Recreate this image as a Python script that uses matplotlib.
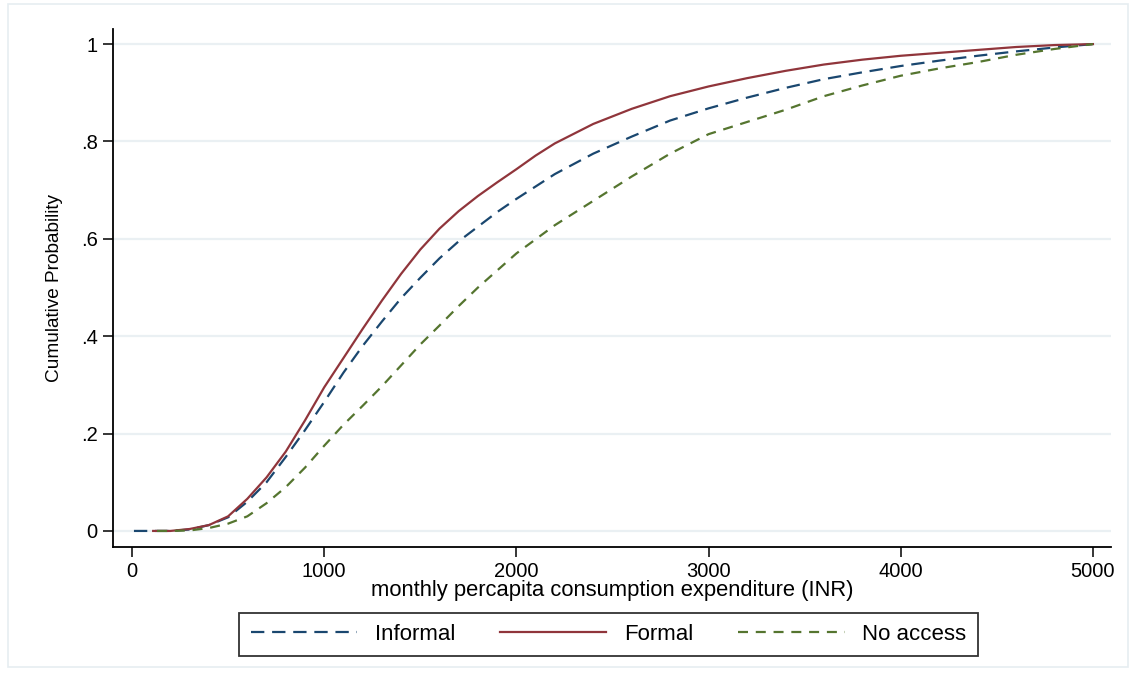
import matplotlib
matplotlib.use("Agg")
import matplotlib.pyplot as plt
from matplotlib.patches import Rectangle

plt.rcParams['font.family'] = ['Liberation Sans', 'DejaVu Sans']

# x grid (INR) and cumulative probabilities
x_formal = [110, 200, 300, 400, 500, 600, 700, 800, 900, 1000, 1100, 1200, 1300, 1400,
            1500, 1600, 1700, 1800, 1900, 2000, 2100, 2200, 2400, 2600, 2800, 3000, 3200,
            3400, 3600, 3800, 4000, 4200, 4400, 4600, 4800, 5000]
y_formal = [0.0, 0.0, 0.004, 0.012, 0.03, 0.066, 0.11, 0.163, 0.227, 0.295, 0.355, 0.415,
            0.473, 0.528, 0.578, 0.621, 0.657, 0.688, 0.716, 0.743, 0.771, 0.796, 0.836, 0.867,
            0.893, 0.913, 0.93, 0.945, 0.958, 0.968, 0.976, 0.982, 0.988, 0.994, 0.998, 1.0]

x_informal = [10, 200, 300, 400, 500, 600, 700, 800, 900, 1000, 1100, 1200, 1300, 1400,
              1500, 1600, 1700, 1800, 1900, 2000, 2200, 2400, 2600, 2800, 3000, 3200,
              3400, 3600, 3800, 4000, 4200, 4400, 4600, 4800, 5000]
y_informal = [0.0, 0.0, 0.003, 0.012, 0.028, 0.06, 0.10, 0.152, 0.207, 0.265, 0.325, 0.38,
              0.43, 0.478, 0.52, 0.56, 0.595, 0.625, 0.655, 0.682, 0.733, 0.775, 0.81,
              0.843, 0.868, 0.89, 0.91, 0.928, 0.942, 0.955, 0.966, 0.976, 0.985, 0.993, 1.0]

x_noaccess = [130, 200, 300, 400, 500, 600, 700, 800, 900, 1000, 1100, 1200, 1300, 1400,
              1500, 1600, 1700, 1800, 1900, 2000, 2200, 2400, 2600, 2800, 3000, 3200,
              3400, 3600, 3800, 4000, 4200, 4400, 4600, 4800, 5000]
y_noaccess = [0.0, 0.0, 0.001, 0.006, 0.015, 0.03, 0.057, 0.09, 0.13, 0.175, 0.218, 0.257,
              0.297, 0.34, 0.383, 0.422, 0.462, 0.5, 0.535, 0.57, 0.628, 0.678, 0.728,
              0.775, 0.815, 0.84, 0.865, 0.893, 0.915, 0.935, 0.95, 0.963, 0.978, 0.99, 1.0]

x_ticks = [0, 1000, 2000, 3000, 4000, 5000]
y_ticks = [0, 0.2, 0.4, 0.6, 0.8, 1.0]
y_ticklabels = ["0", ".2", ".4", ".6", ".8", "1"]

c_informal = "#1a476f"
c_formal = "#90353b"
c_noaccess = "#55752f"

fig = plt.figure(figsize=(11.32, 6.86), dpi=100)
fig.patch.set_facecolor("white")
fig.patches.append(Rectangle((8/1132, 1 - 667/686), (1128 - 8)/1132, (667 - 4)/686,
                             transform=fig.transFigure, fill=False,
                             edgecolor="#e6edf1", linewidth=1.2))

ax = fig.add_axes([113/1132, 1 - 547/686, (1111 - 113)/1132, (547 - 29)/686])
ax.set_xlim(-99, 5094)
ax.set_ylim(-0.033, 1.031)

for yt in y_ticks:
    ax.axhline(yt, color="#eaf0f3", linewidth=1.6, zorder=0)

l1, = ax.plot(x_informal, y_informal, color=c_informal, linewidth=1.6,
              dashes=(6, 3.5), label="Informal")
l2, = ax.plot(x_formal, y_formal, color=c_formal, linewidth=1.6, label="Formal")
l3, = ax.plot(x_noaccess, y_noaccess, color=c_noaccess, linewidth=1.6,
              dashes=(4.5, 3.5), label="No access")

ax.spines["top"].set_visible(False)
ax.spines["right"].set_visible(False)
ax.spines["left"].set_linewidth(1.3)
ax.spines["bottom"].set_linewidth(1.3)
ax.set_xticks(x_ticks)
ax.set_yticks(y_ticks)
ax.set_yticklabels(y_ticklabels)
ax.tick_params(axis="both", direction="out", length=7, width=1.1, labelsize=14.5,
               pad=4, colors="black")

ax.set_xlabel("monthly percapita consumption expenditure (INR)", fontsize=15.8, labelpad=-1)
ax.set_ylabel("Cumulative Probability", fontsize=13.7, labelpad=13)

fs_leg = 16
leg = fig.legend(handles=[l1, l2, l3], loc="center",
                 bbox_to_anchor=((237 + 980) / 2 / 1132, 1 - 634.5 / 686),
                 ncol=3, frameon=True, fancybox=False, fontsize=fs_leg,
                 handlelength=4.8, handletextpad=0.8, columnspacing=2.0,
                 borderpad=0.5, edgecolor="black")
leg.get_frame().set_linewidth(1.3)

fig.savefig("out.png", dpi=100, facecolor="white")
